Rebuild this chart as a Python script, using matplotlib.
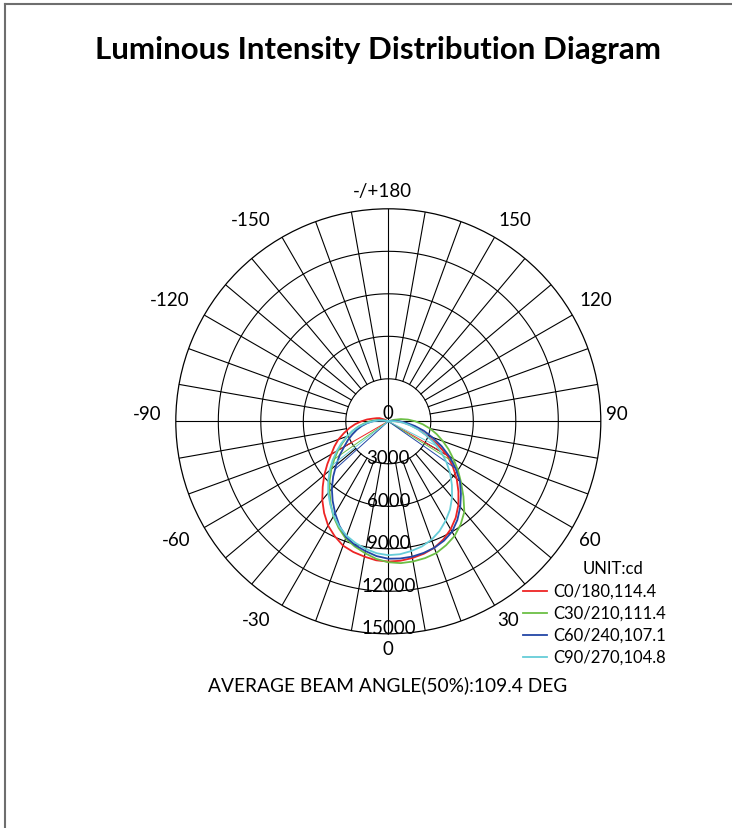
import numpy as np
import matplotlib
matplotlib.use("Agg")
import matplotlib.pyplot as plt
from matplotlib.lines import Line2D

# === Data (cd), gamma angles from nadir, 5 deg steps ===
gamma = list(range(0, 125, 5))

# right half (C0, C30, C60, C90)
c0 = [9900, 9880, 9800, 9680, 9500, 9200, 8800, 8300, 7700, 7000, 6300, 5550, 4800,
      3800, 2850, 2200, 1600, 1100, 600, 300, 100, 0, 0, 0, 0]
c30 = [9950, 10050, 10050, 10000, 9900, 9650, 9350, 8900, 8350, 7500, 6700, 6000, 5300,
       4700, 4100, 3550, 3000, 2450, 1900, 1400, 900, 400, 0, 0, 0]
c60 = [9700, 9720, 9700, 9620, 9500, 9300, 9000, 8500, 7900, 7250, 6600, 5800, 5000,
       4150, 3300, 2600, 1900, 1300, 800, 450, 200, 0, 0, 0, 0]
c90 = [9450, 9420, 9300, 9150, 8900, 8550, 8100, 7600, 7000, 6350, 5700, 5000, 4300,
       3550, 2800, 2150, 1500, 1000, 500, 200, 0, 0, 0, 0, 0]
# left half (C180, C210, C240, C270)
c180 = [9900, 9850, 9700, 9550, 9340, 8950, 8500, 7900, 7250, 6550, 5900, 5250, 4650,
        4200, 3750, 3250, 2800, 2350, 1900, 1500, 1100, 850, 650, 300, 0]
c210 = [9950, 9750, 9450, 9150, 8800, 8300, 7750, 7100, 6450, 5850, 5250, 4650, 4100,
        3550, 3050, 2600, 2150, 1700, 1300, 900, 500, 200, 0, 0, 0]
c240 = [9700, 9550, 9300, 9050, 8700, 8150, 7500, 6850, 6200, 5500, 4800, 4200, 3600,
        3150, 2700, 2300, 1900, 1500, 1100, 700, 300, 0, 0, 0, 0]
c270 = [9450, 9350, 9150, 8900, 8600, 8200, 7700, 7150, 6600, 6000, 5400, 4800, 4200,
        3650, 3100, 2600, 2100, 1600, 1100, 700, 300, 0, 0, 0, 0]

# chord angles (thin lines from centre to curve)
chord_right = [60, 58, 55, 63]
chord_left = [60, 55, 48, 52]

labels = ["C0/180,114.4", "C30/210,111.4", "C60/240,107.1", "C90/270,104.8"]
colors = ["#ee2424", "#6cbf45", "#2347a6", "#66cdd8"]

rings = [3000, 6000, 9000, 12000, 15000]
angle_texts = ["-/+180", "150", "120", "90", "60", "30", "0", "-30", "-60", "-90", "-120", "-150"]
# label centres in pixels (x, y from top)
angle_pos = [(382.5, 191), (515, 220), (596, 300), (617, 415), (590, 541), (508, 621),
             (388, 650), (256, 621), (176, 541), (147, 415), (170, 300), (251, 220)]

plt.rcParams['font.family'] = ['Lato', 'DejaVu Sans']

W, H = 732, 829
fig = plt.figure(figsize=(W / 100, H / 100), dpi=100)

cx, cy, R = 388.3, 422.3, 212.5
ax = fig.add_axes([(cx - R) / W, (H - cy - R) / H, 2 * R / W, 2 * R / H], projection='polar')
ax.set_theta_zero_location('S')
ax.set_theta_direction(1)
ax.set_ylim(0, 15000)
ax.grid(False)
ax.set_xticks([])
ax.set_yticks([])
ax.spines['polar'].set_linewidth(0.9)
ax.spines['polar'].set_color('black')

# === grid ===
tt = np.linspace(0, 2 * np.pi, 361)
for r in rings[:-1]:
    ax.plot(tt, np.full_like(tt, r), color='black', lw=0.8, zorder=1)
for a in range(0, 360, 10):
    th = np.deg2rad(a)
    r0 = 0 if a % 90 == 0 else rings[0]
    ax.plot([th, th], [r0, 15000], color='black', lw=0.8, zorder=1)

# === curves ===
right = [c0, c30, c60, c90]
left = [c180, c210, c240, c270]
g = np.array(gamma)
for i in range(4):
    rv = np.array(right[i], dtype=float)
    lv = np.array(left[i], dtype=float)
    th = np.deg2rad(np.concatenate([-g[::-1], g[1:]]))
    rr = np.concatenate([lv[::-1], rv[1:]])
    ax.plot(th, rr, color=colors[i], lw=1.3, zorder=3)
    # thin chords
    for ang, vals in ((chord_right[i], rv), (-chord_left[i], lv)):
        v = np.interp(abs(ang), g, vals)
        ax.plot([0, np.deg2rad(ang)], [0, v], color=colors[i], lw=0.7, zorder=3)

# === angle labels ===
for (px, py), t in zip(angle_pos, angle_texts):
    fig.text(px / W, 1 - py / H, t, ha='center', va='center', fontsize=13.5)

# === radial labels ===
ax.text(np.pi, 9 / R * 15000, "0", ha='center', va='center', fontsize=13.5, zorder=5)
for r in rings:
    ax.text(0, r - 6 / R * 15000, str(r), ha='center', va='center', fontsize=13.5, zorder=5)

# === title and notes ===
fig.text(378 / W, 1 - 50 / H, "Luminous Intensity Distribution Diagram",
         ha='center', va='center', fontsize=22.5, fontweight='bold')
fig.text(388 / W, 1 - 685 / H, "AVERAGE BEAM ANGLE(50%):109.4 DEG",
         ha='center', va='center', fontsize=13.8)

# === legend ===
fig.text(613 / W, 1 - 569.5 / H, "UNIT:cd", ha='center', va='center', fontsize=12)
for i, lab in enumerate(labels):
    y = 1 - (592 + 22 * i) / H
    fig.add_artist(Line2D([523 / W, 547 / W], [y, y], color=colors[i], lw=1.3))
    fig.text(553 / W, y, lab, ha='left', va='center', fontsize=12)

# === border ===
fig.add_artist(Line2D([5 / W, 1], [1 - 5 / H, 1 - 5 / H], color='#6e6e6e', lw=1.5))
fig.add_artist(Line2D([5 / W, 5 / W], [0, 1 - 5 / H], color='#6e6e6e', lw=1.5))

fig.savefig("out.png", dpi=100)
